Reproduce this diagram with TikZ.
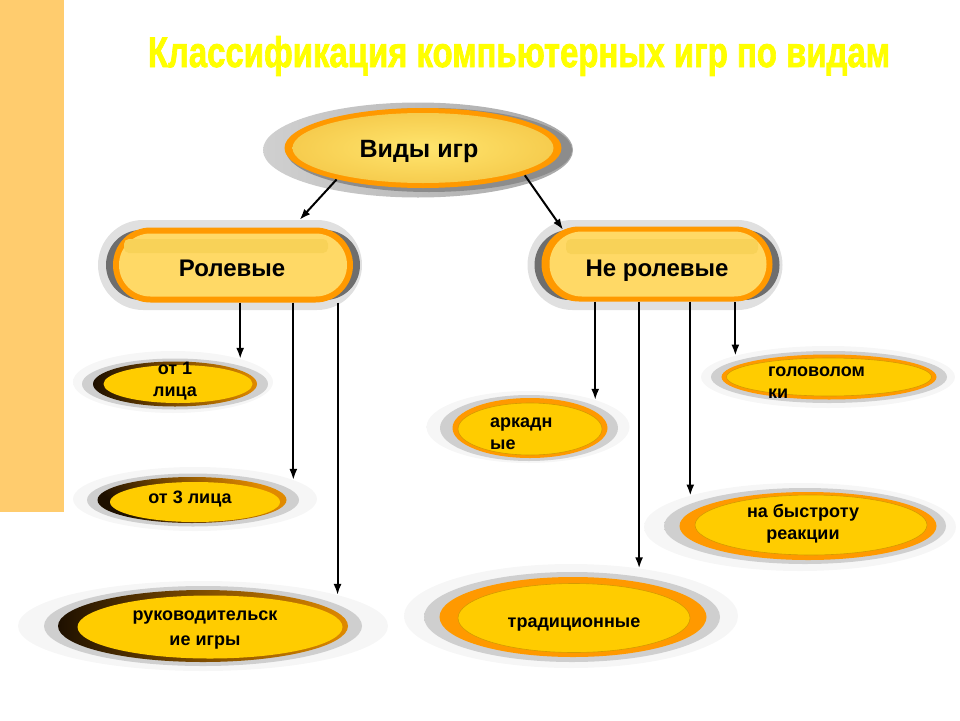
\documentclass[tikz,border=0pt]{standalone}
\usepackage{fontspec}
\setmainfont{Liberation Sans}
\newfontfamily\titlefont[FakeBold=2]{Liberation Sans}
\usepackage{graphicx}
\usetikzlibrary{arrows.meta,shapes.geometric,shapes.misc}

\definecolor{sidebarc}{HTML}{FFCC6E}
\definecolor{titlec}{HTML}{FFFF00}
\definecolor{ringor}{HTML}{FF9900}
\definecolor{coreyel}{HTML}{FFCC00}
\definecolor{corelinec}{HTML}{D49A00}
\definecolor{ringdk}{HTML}{1E1000}
\definecolor{ringlt}{HTML}{E08A00}
\definecolor{haloend}{HTML}{F6F6F6}
\definecolor{halolt}{HTML}{CFCFCF}
\definecolor{halodk}{HTML}{A2A2A2}
\definecolor{hdhaloc}{HTML}{E0E0E0}
\definecolor{hdshadec}{HTML}{6E6E6E}
\definecolor{hdcorec}{HTML}{FFD966}
\definecolor{hdstripec}{HTML}{F8D258}
\definecolor{topin}{HTML}{FFE56E}
\definecolor{topout}{HTML}{F6CC4E}
\definecolor{tophalol}{HTML}{D0D0D0}
\definecolor{tophalor}{HTML}{A8A8A8}
\definecolor{topshadec}{HTML}{8C8C8C}

\begin{document}
\begin{tikzpicture}[
  x=1pt, y=-1pt,
  halo/.style={ellipse,inner sep=0pt,left color=haloend,middle color=halolt,right color=haloend},
  halob/.style={ellipse,inner sep=0pt,left color=halolt,middle color=halodk,right color=halolt},
  dkring/.style={ellipse,inner sep=0pt,left color=ringdk,right color=ringlt},
  orring/.style={ellipse,inner sep=0pt,fill=ringor},
  core/.style={ellipse,inner sep=0pt,fill=coreyel},
  orcore/.style={core,draw=corelinec,line width=0.6pt},
  tophalo/.style={ellipse,inner sep=0pt,left color=tophalol,right color=tophalor},
  topshade/.style={ellipse,inner sep=0pt,fill=topshadec},
  topcore/.style={ellipse,inner sep=0pt,inner color=topin,outer color=topout},
  hdhalo/.style={rounded rectangle,inner sep=0pt,fill=hdhaloc},
  hdshade/.style={rounded rectangle,inner sep=0pt,fill=hdshadec},
  hdring/.style={rounded rectangle,inner sep=0pt,fill=ringor},
  hdcore/.style={rounded rectangle,inner sep=0pt,fill=hdcorec},
  headtext/.style={anchor=base,inner sep=0pt,font=\bfseries\fontsize{24}{28}\selectfont},
  itemtext/.style={align=center,inner sep=0pt,font=\bfseries\fontsize{18}{22}\selectfont},
  arr/.style={-{Latex[length=11pt,width=8pt]},line width=2pt}
]
\useasboundingbox (0,0) rectangle (960,720);
\fill[sidebarc] (0,0) rectangle (64,512);

\node[anchor=base,inner sep=0pt,text=titlec,font=\titlefont\bfseries] (title) at (519,67)
  {\resizebox{742pt}{31pt}{Классификация компьютерных игр по видам}};

\node[tophalo, minimum width=310pt, minimum height=95pt] (vidyh) at (418,150) {};
\node[topshade, minimum width=286pt, minimum height=84pt] (vidys) at (429,150) {};
\node[orring, minimum width=277pt, minimum height=80pt] (vidyr) at (423,148) {};
\node[topcore, minimum width=261pt, minimum height=70pt] (vidy) at (423,148) {};
\node[headtext, font=\bfseries\fontsize{25}{30}\selectfont] (vidyt) at (419,157) {Виды игр};

\node[hdhalo, minimum width=264pt, minimum height=90pt] (rolh) at (230,265) {};
\node[hdshade, minimum width=254pt, minimum height=70pt] (rols) at (233,265) {};
\node[hdring, minimum width=240pt, minimum height=75pt] (rolr) at (233,265) {};
\node[hdcore, minimum width=228pt, minimum height=63pt] (rol) at (233,265) {};
\fill[hdstripec, rounded corners=5pt] (124,239) rectangle (328,253);
\node[headtext] (rolt) at (232,276) {Ролевые};

\node[hdhalo, minimum width=255pt, minimum height=90pt] (nerolh) at (655,265) {};
\node[hdshade, minimum width=245pt, minimum height=70pt] (nerols) at (657,265) {};
\node[hdring, minimum width=231pt, minimum height=75pt] (nerolr) at (657,264) {};
\node[hdcore, minimum width=217pt, minimum height=65pt] (nerol) at (658,264) {};
\fill[hdstripec, rounded corners=5pt] (566,239) rectangle (758,254);
\node[headtext] (nerolt) at (657,276) {Не ролевые};

\node[halo, minimum width=200pt, minimum height=62pt] (l1h) at (173,382) {};
\node[halob, minimum width=186pt, minimum height=51pt] (l1b) at (175,384) {};
\node[dkring, minimum width=164pt, minimum height=45pt] (l1r) at (175,384) {};
\node[core, minimum width=149pt, minimum height=38pt] (l1) at (178,384) {};
\node[itemtext] (l1t) at (175,381) {от 1\\лица};

\node[halo, minimum width=244pt, minimum height=64pt] (l3h) at (195,499) {};
\node[halob, minimum width=212pt, minimum height=53pt] (l3b) at (193,500) {};
\node[dkring, top color=ringlt, bottom color=ringdk, shading angle=-45,
  minimum width=189pt, minimum height=46pt] (l3r) at (192,500) {};
\node[core, minimum width=170pt, minimum height=40pt] (l3) at (195,502) {};
\node[itemtext, anchor=base] (l3t) at (190,503) {от 3 лица};

\node[halo, minimum width=370pt, minimum height=90pt] (rkh) at (203,626) {};
\node[halob, minimum width=318pt, minimum height=80pt] (rkb) at (203,626) {};
\node[dkring, minimum width=290pt, minimum height=72pt] (rkr) at (203,626) {};
\node[core, minimum width=265pt, minimum height=63pt] (rk) at (210,627) {};
\node[itemtext, font=\bfseries\fontsize{18}{25}\selectfont] (rkt) at (205,630) {руководительск\\ие игры};

\node[halo, minimum width=203pt, minimum height=72pt] (arkh) at (528,427) {};
\node[halob, minimum width=178pt, minimum height=66pt] (arkb) at (529,428) {};
\node[orring, minimum width=155pt, minimum height=60pt] (arkr) at (530,428) {};
\node[orcore, minimum width=144pt, minimum height=52pt] (ark) at (530,429) {};
\node[itemtext, align=left, anchor=west] (arkt) at (490,434) {аркадн\\ые};

\node[halo, minimum width=254pt, minimum height=62pt] (gkh) at (828,377) {};
\node[halob, minimum width=236pt, minimum height=52pt] (gkb) at (829,377) {};
\node[orring, minimum width=215pt, minimum height=45pt] (gkr) at (829,377) {};
\node[orcore, minimum width=205pt, minimum height=38pt] (gk) at (829,377) {};
\node[itemtext, align=left, anchor=west] (gkt) at (768,383) {головолом\\ки};

\node[halo, minimum width=312pt, minimum height=88pt] (brh) at (800,527) {};
\node[halob, minimum width=282pt, minimum height=76pt] (brb) at (805,526) {};
\node[orring, minimum width=257pt, minimum height=68pt] (brr) at (808,526) {};
\node[orcore, minimum width=232pt, minimum height=60pt] (br) at (811,525) {};
\node[itemtext] (brt) at (803,524) {на быстроту\\реакции};

\node[halo, minimum width=334pt, minimum height=104pt] (trh) at (571,616) {};
\node[halob, minimum width=296pt, minimum height=90pt] (trb) at (572,617) {};
\node[orring, minimum width=267pt, minimum height=80pt] (trr) at (573,617) {};
\node[orcore, minimum width=232pt, minimum height=69pt] (tr) at (574,618) {};
\node[itemtext, anchor=base] (trt) at (574,627) {традиционные};

\draw[arr] (vidyr.200) -- (rolh.33);
\draw[arr] (vidyr.345) -- (nerolr.160);
\draw[arr] (l1h.19 |- rolr.south) -- (l1h.19);
\draw[arr] (l3h.11 |- rolr.south) -- (l3h.11);
\draw[arr] (rkh.13 |- rolr.south) -- (rkh.13);
\draw[arr] (arkh.22 |- nerolr.south) -- (arkh.22);
\draw[arr] (trh.35 |- nerolr.south) -- (trh.35);
\draw[arr] (brh.164 |- nerolr.south) -- (brh.164);
\draw[arr] (gkh.167 |- nerolr.south) -- (gkh.167);
\end{tikzpicture}
\end{document}
